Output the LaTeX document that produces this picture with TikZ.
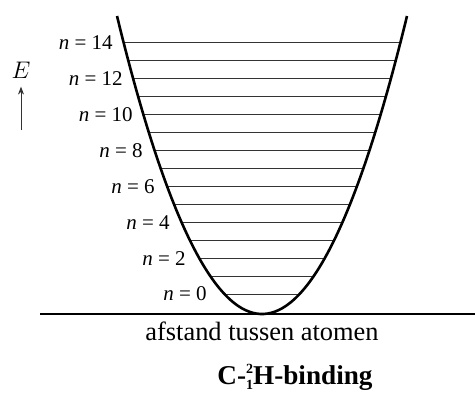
\documentclass[tikz,border=0pt]{standalone}
\usepackage{fontspec}
\setmainfont{Liberation Serif}
\usetikzlibrary{arrows.meta, positioning}
\definecolor{darkgray}{HTML}{333333}
\tikzset{
  wellcurve/.style={line width=1.3pt, black},
  levelline/.style={line width=0.5pt, darkgray},
  axisline/.style={line width=0.7pt, black},
  energyarrow/.style={-{Stealth[length=4pt, width=3pt]}, line width=0.5pt, darkgray},
  nlabel/.style={anchor=east, inner sep=0pt, font=\fontsize{10.5}{12}\selectfont},
}
\begin{document}
\begin{tikzpicture}[x=0.5pt, y=-0.5pt]
  \useasboundingbox (0,0) rectangle (475,392);

  % energy levels n = 0 ... 14
  \foreach \n in {0,...,14} {
    \pgfmathsetmacro{\yl}{294-17.93*\n}
    \pgfmathsetmacro{\dx}{145*sqrt((314-\yl)/298)}
    \draw[levelline] ({262-\dx},\yl) -- ({262+\dx},\yl);
  }

  % potential well
  \draw[wellcurve] plot[domain=-145:145, samples=80, smooth] ({262+\x},{314-298*(\x/145)^2});

  % labels of the even levels
  \foreach \n/\xr in {0/207,2/186,4/170,6/155,8/143,10/133,12/123,14/113} {
    \pgfmathsetmacro{\yl}{294-17.93*\n}
    \node[nlabel] (lab\n) at (\xr,\yl) {\textit{n} = \n};
  }

  % axis
  \coordinate (axleft) at (40,314);
  \coordinate (axright) at (475,314);
  \draw[axisline] (axleft) -- (axright);
  \node (xlabel) at (262,331) {\fontsize{13.2}{15}\selectfont afstand tussen atomen};

  % energy
  \node[inner sep=0pt, font=\fontsize{12}{14}\selectfont] (E) at (21,70) {$E$};
  \coordinate (Ebase) at (21,130);
  \draw[energyarrow] (Ebase) -- ([yshift=-4pt]E.south);

  \node (title) at (295,377) {\fontsize{13.6}{15}\selectfont\bfseries C-\rlap{\raisebox{0.9ex}{\fontsize{7}{7}\selectfont 2}}\raisebox{-0.4ex}{\fontsize{7}{7}\selectfont 1}H-binding};
\end{tikzpicture}
\end{document}
